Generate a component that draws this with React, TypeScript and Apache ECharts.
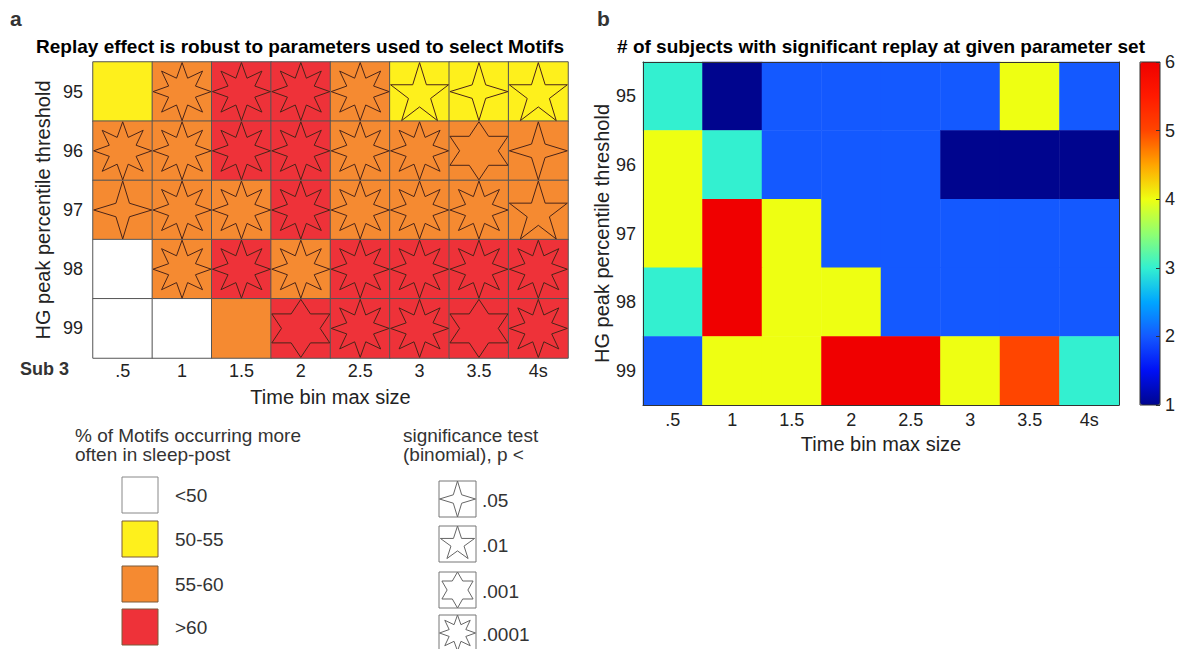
import React, { useEffect, useRef } from 'react';
import * as echarts from 'echarts';

// ---------- data ----------
const timeBins = ['.5', '1', '1.5', '2', '2.5', '3', '3.5', '4s'];
const thresholds = ['95', '96', '97', '98', '99'];

// panel a: class of % of motifs more often in sleep-post (0:<50, 1:50-55, 2:55-60, 3:>60)
const motifClass = [
  [1, 2, 3, 3, 2, 1, 1, 1],
  [2, 2, 3, 3, 2, 2, 2, 2],
  [2, 2, 2, 3, 2, 2, 2, 2],
  [0, 2, 3, 2, 3, 3, 3, 3],
  [0, 0, 2, 3, 3, 3, 3, 3],
];
// panel a: significance star (number of star points; 0 = not significant)
const starPointsGrid = [
  [0, 8, 8, 8, 8, 5, 4, 5],
  [8, 8, 8, 8, 8, 8, 6, 4],
  [4, 8, 8, 8, 8, 8, 8, 5],
  [0, 8, 8, 8, 8, 8, 8, 8],
  [0, 0, 0, 6, 8, 8, 6, 8],
];
// panel b: number of subjects with significant replay
const subjectCounts = [
  [3, 1, 2, 2, 2, 2, 4, 2],
  [4, 3, 2, 2, 2, 1, 1, 1],
  [4, 6, 4, 2, 2, 2, 2, 2],
  [3, 6, 4, 4, 2, 2, 2, 2],
  [2, 4, 4, 6, 6, 4, 5, 3],
];
const colorbarTicks = [1, 6];

const classLabels = ['<50', '50-55', '55-60', '>60'];
const sigLevels = ['.05', '.01', '.001', '.0001'];
const sigPoints = [4, 5, 6, 8];

// ---------- styles ----------
const FONT = '"Liberation Sans", Arial, sans-serif';
const CLASS_COLORS = ['#FFFFFF', '#FEF01C', '#F58A31', '#EE3239'];
const JET = [
  '#00058E', '#0010F5', '#1459FF', '#00A6FF', '#33F0D0', '#90FF70',
  '#EEFF12', '#FFA500', '#FF4500', '#FF1A00', '#F00000',
];
const RATIO: Record<number, number> = { 4: 0.33, 5: 0.382, 6: 0.577, 8: 0.5 };

function starPts(n: number, cx: number, cy: number, R: number) {
  const pts: number[][] = [];
  const ratio = RATIO[n];
  for (let i = 0; i < 2 * n; i++) {
    const a = -Math.PI / 2 + (i * Math.PI) / n;
    const rad = i % 2 === 0 ? R : R * ratio;
    pts.push([cx + rad * Math.cos(a), cy + rad * Math.sin(a)]);
  }
  return pts;
}
function starSymbol(n: number) {
  const p = starPts(n, 0, 0, 50);
  return 'path://M' + p.map((q) => q[0].toFixed(2) + ' ' + q[1].toFixed(2)).join(' L') + ' Z';
}

export default function App() {
  const ref = useRef<HTMLDivElement>(null);
  useEffect(() => {
    if (!ref.current) return;
    const chart = echarts.init(ref.current, undefined, { renderer: 'svg' });

    const dataA: number[][] = [];
    const dataStars: number[][] = [];
    const dataB: number[][] = [];
    thresholds.forEach((_, yi) => {
      timeBins.forEach((__, xi) => {
        dataA.push([xi, yi, motifClass[yi][xi]]);
        if (starPointsGrid[yi][xi] > 0) dataStars.push([xi, yi, starPointsGrid[yi][xi]]);
        dataB.push([xi, yi, subjectCounts[yi][xi]]);
      });
    });

    const txt = (text: string, x: number, y: number, size: number, opts: any = {}) => ({
      type: 'text',
      x,
      y,
      z: 100,
      style: {
        text,
        font: `${opts.bold ? 'bold ' : ''}${size}px ${FONT}`,
        fill: opts.fill || '#222',
        textAlign: opts.align || 'left',
        textVerticalAlign: 'middle',
      },
    });

    const graphics: any[] = [
      txt('a', 10, 18, 21, { bold: true, fill: '#333' }),
      txt('b', 597, 18, 21, { bold: true, fill: '#333' }),
      txt('Replay effect is robust to parameters used to select Motifs', 300, 46, 19, { bold: true, align: 'center', fill: '#000' }),
      txt('# of subjects with significant replay at given parameter set', 881, 46, 19, { bold: true, align: 'center', fill: '#000' }),
      txt('Sub 3', 20, 369, 18, { bold: true, fill: '#333' }),
      txt('% of Motifs occurring more', 75, 435, 19, { fill: '#333' }),
      txt('often in sleep-post', 75, 454, 19, { fill: '#333' }),
      txt('significance test', 403, 435, 19, { fill: '#333' }),
      txt('(binomial), p <', 403, 454, 19, { fill: '#333' }),
      // colorbar outline
      {
        type: 'rect',
        z: 100,
        shape: { x: 1140, y: 62, width: 20, height: 343 },
        style: { fill: 'none', stroke: '#333', lineWidth: 1 },
      },
    ];
    const boxTops = [477, 521, 566, 609];
    classLabels.forEach((lab, i) => {
      graphics.push({
        type: 'rect',
        z: 100,
        shape: { x: 122, y: boxTops[i], width: 36, height: 36 },
        style: { fill: CLASS_COLORS[i], stroke: i === 0 ? '#888' : '#7a5a3a', lineWidth: 1 },
      });
      graphics.push(txt(lab, 175, boxTops[i] + 18, 19, { fill: '#333' }));
    });
    const sigTops = [481, 526, 572, 615];
    sigLevels.forEach((lab, i) => {
      graphics.push({
        type: 'rect',
        z: 100,
        shape: { x: 439, y: sigTops[i], width: 37, height: 36 },
        style: { fill: '#fff', stroke: '#777', lineWidth: 1 },
      });
      graphics.push({
        type: 'polygon',
        z: 101,
        shape: { points: starPts(sigPoints[i], 457.5, sigTops[i] + 18, 18) },
        style: { fill: '#fff', stroke: '#666', lineWidth: 1 },
      });
      graphics.push(txt(lab, 482, sigTops[i] + 19, 19, { fill: '#333' }));
    });

    const labelStyle = { fontSize: 18, color: '#222', fontFamily: FONT };
    const nameStyle = { fontSize: 20, color: '#222', fontFamily: FONT };

    chart.setOption({
      animation: false,
      textStyle: { fontFamily: FONT },
      grid: [
        { left: 93, top: 62, width: 475, height: 296, outerBoundsMode: 'none' },
        { left: 643, top: 62, width: 476, height: 343, outerBoundsMode: 'none' },
        { left: 1140, top: 62, width: 20, height: 343, outerBoundsMode: 'none' },
      ],
      xAxis: [
        {
          type: 'category', gridIndex: 0, data: timeBins,
          axisLine: { show: false }, axisTick: { show: false },
          axisLabel: { ...labelStyle, margin: 4 },
          name: 'Time bin max size', nameLocation: 'middle', nameGap: 29, nameTextStyle: nameStyle,
        },
        {
          type: 'category', gridIndex: 1, data: timeBins, z: 10,
          axisLine: { lineStyle: { color: '#333' } },
          axisTick: { inside: true, alignWithLabel: true, length: 6, lineStyle: { color: '#333' } },
          axisLabel: { ...labelStyle, margin: 6 },
          name: 'Time bin max size', nameLocation: 'middle', nameGap: 29, nameTextStyle: nameStyle,
        },
        {
          type: 'category', gridIndex: 1, data: timeBins, position: 'top', z: 10,
          axisLine: { lineStyle: { color: '#333' } },
          axisTick: { inside: true, alignWithLabel: true, length: 6, lineStyle: { color: '#333' } },
          axisLabel: { show: false },
        },
        { type: 'category', gridIndex: 2, data: [''], show: false },
      ],
      yAxis: [
        {
          type: 'category', gridIndex: 0, data: thresholds, inverse: true,
          axisLine: { show: false }, axisTick: { show: false },
          axisLabel: { ...labelStyle, margin: 10 },
          name: 'HG peak percentile threshold', nameLocation: 'middle', nameGap: 40, nameTextStyle: nameStyle,
        },
        {
          type: 'category', gridIndex: 1, data: thresholds, inverse: true, z: 10,
          axisLine: { lineStyle: { color: '#333' } },
          axisTick: { inside: true, alignWithLabel: true, length: 6, lineStyle: { color: '#333' } },
          axisLabel: { ...labelStyle, margin: 7 },
          name: 'HG peak percentile threshold', nameLocation: 'middle', nameGap: 30, nameTextStyle: nameStyle,
        },
        {
          type: 'category', gridIndex: 1, data: thresholds, inverse: true, position: 'right', z: 10,
          axisLine: { lineStyle: { color: '#333' } },
          axisTick: { inside: true, alignWithLabel: true, length: 6, lineStyle: { color: '#333' } },
          axisLabel: { show: false },
        },
        {
          type: 'value', gridIndex: 2, position: 'right', min: colorbarTicks[0], max: colorbarTicks[1], interval: 1, z: 10,
          axisLine: { show: false },
          axisTick: { show: true, inside: true, length: 4, lineStyle: { color: '#333' } },
          splitLine: { show: false },
          axisLabel: { ...labelStyle, margin: 5 },
        },
      ],
      visualMap: [
        {
          type: 'piecewise', show: false, seriesIndex: 0, dimension: 2,
          pieces: CLASS_COLORS.map((c, i) => ({ value: i, color: c })),
        },
        {
          type: 'continuous', seriesIndex: 1, dimension: 2, min: 1, max: 6,
          calculable: false, left: 1140, top: 62, itemWidth: 20, itemHeight: 343, padding: 0,
          inRange: { color: JET }, hoverLink: false,
        },
      ],
      series: [
        {
          type: 'heatmap', xAxisIndex: 0, yAxisIndex: 0, data: dataA,
          itemStyle: { borderColor: '#555', borderWidth: 1 },
        },
        {
          type: 'heatmap', xAxisIndex: 1, yAxisIndex: 1, data: dataB,
        },
        {
          type: 'scatter', xAxisIndex: 0, yAxisIndex: 0, data: dataStars, z: 5,
          symbol: (val: number[]) => starSymbol(val[2]),
          symbolSize: 58,
          itemStyle: { color: 'rgba(0,0,0,0)', borderColor: '#4a2418', borderWidth: 1, opacity: 1 },
        },
      ],
      graphic: graphics,
    });
    return () => chart.dispose();
  }, []);
  return (
    <div
      ref={ref}
      style={{ position: 'fixed', left: 0, top: 0, width: 1178, height: 649, background: '#fff' }}
    />
  );
}
